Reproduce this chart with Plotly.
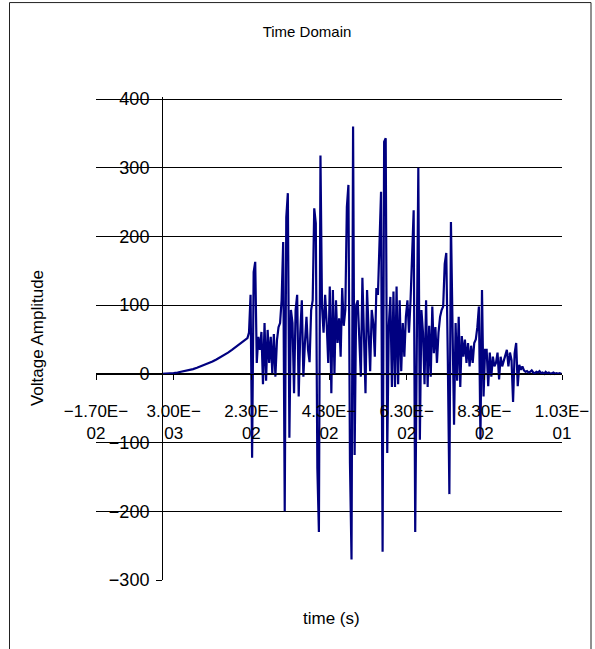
import numpy as np
import plotly.graph_objects as go

# ---- data ----
ramp_start = 0.0
ramp_step = 0.001
ramp_values = [0, 0, 1, 1, 2, 3, 4, 5, 7, 9, 11, 13, 15, 18, 21, 24, 27, 31, 35, 39, 43, 48, 52]

burst_start = 0.0224
burst_step = 0.0004
burst_values = [
    60, 115, -122, 148, 163, 16, 54, 35, 61, -15,
    74, -10, 64, 16, 54, 1, 58, -4, 49, 68,
    74, 107, 192, -200, 228, 263, -93, 93, 74, -28,
    93, 115, -33, 60, 107, -4, 45, 83, 35, 17,
    93, 107, 241, 219, -137, -230, 318, 98, 60, 115,
    74, 16, 127, -28, 122, 0, 107, 45, 81, 25,
    125, 70, 93, 243, 275, -130, -270, 360, -118, 100,
    107, 60, -4, 140, 50, -28, 122, 60, 4, 93,
    74, 25, 125, 115, 209, 265, -259, 338, 343, -115,
    70, 112, -19, 120, -19, 127, -15, 107, 4, 74,
    25, 83, 107, 60, 107, 166, 238, -230, 40, 300,
    -96, 93, 60, -15, 107, -19, 70, -4, 98, 30,
    68, 16, 60, 83, 93, 98, 160, 176, 20, -175,
    221, 60, -74, 74, -10, 83, -19, 55, 25, 50,
    16, 45, 11, 41, 16, 45, 50, 68, 98, -96,
    122, -33, 35, 35, -18, 31, -4, 25, 11, 16,
    31, -8, 25, 11, 20, 25, 35, 11, 31, 20,
    -41, 30, 45, -18, 13, 6, 11, 5, 3, 4,
    2, 3, 5, 2, 1, 3, 2, 4, 1, 2,
    0, 3, 1, 2, 0, 1, 2, 0, 1, 0,
    1, 0,
]

x_range = [-0.017, 0.103]
x_major = 0.02
y_range = [-300, 400]
y_major = 100

title_text = "Time Domain"
x_title = "time (s)"
y_title = "Voltage Amplitude"

# ---- assemble ----
t_ramp = ramp_start + ramp_step * np.arange(len(ramp_values))
t_burst = burst_start + burst_step * np.arange(len(burst_values))
t_all = np.round(np.concatenate([t_ramp, t_burst]), 5)
v_all = np.array(ramp_values + burst_values, dtype=float)

x_ticks = np.round(np.arange(x_range[0], x_range[1] + 1e-9, x_major), 4)


def sci_label(v):
    s = f"{v:.2E}".replace("-", "\u2212")
    head, tail = s.split("E")
    return head + "E" + tail[0] + "<br>" + tail[1:]


x_tick_text = [sci_label(v) for v in x_ticks]

FONT = "Liberation Sans, Arial, sans-serif"

# plot area in pixels (top padded a little so the 400 gridline is drawn)
PAD = 3
y_disp = [y_range[0], y_range[1] + PAD]
plot_top, plot_bottom, plot_left, plot_right = 99, 580, 96, 562
px_per_unit = (plot_bottom - plot_top) / (y_range[1] - y_range[0])
top_margin = plot_top - PAD * px_per_unit
plot_h = plot_bottom - top_margin
plot_w = plot_right - plot_left


def px_to_paper_x(px):
    return (px - plot_left) / plot_w


def px_to_paper_y(py):
    return (plot_bottom - py) / plot_h


fig = go.Figure()
fig.add_trace(go.Scatter(
    x=t_all, y=v_all, mode="lines",
    line=dict(color="#000080", width=2.2),
    showlegend=False, hoverinfo="skip",
))

x_axis_pos = (0 - y_disp[0]) / (y_disp[1] - y_disp[0])
y_axis_pos = (0 - x_range[0]) / (x_range[1] - x_range[0])

fig.update_layout(
    width=595, height=649,
    margin=dict(l=plot_left, r=595 - plot_right, t=top_margin, b=649 - plot_bottom,
                autoexpand=False),
    paper_bgcolor="white", plot_bgcolor="white",
    font=dict(family=FONT, size=15, color="black"),
    title=dict(text=title_text, x=px_to_paper_x(307), xref="paper", xanchor="center",
               y=1 - 32 / 649, yref="container", yanchor="middle",
               font=dict(family=FONT, size=15, color="black")),
    xaxis=dict(
        range=x_range, tickvals=x_ticks, ticktext=x_tick_text,
        showgrid=False, zeroline=False, automargin=False,
        showline=True, linecolor="black", linewidth=1,
        ticks="outside", ticklen=5, tickcolor="black",
        anchor="free", position=x_axis_pos,
        tickfont=dict(family=FONT, size=17, color="black"),
        ticklabelstandoff=17,
    ),
    yaxis=dict(
        range=y_disp, dtick=y_major, tick0=0,
        showgrid=True, gridcolor="black", gridwidth=1,
        zeroline=False, automargin=False,
        showline=True, linecolor="black", linewidth=1,
        ticks="outside", ticklen=6, tickcolor="black",
        anchor="free", position=y_axis_pos,
        tickfont=dict(family=FONT, size=18, color="black"),
        ticklabelstandoff=3,
    ),
    annotations=[
        dict(text=y_title, xref="paper", yref="paper",
             x=px_to_paper_x(37), y=px_to_paper_y(338), textangle=-90,
             showarrow=False, xanchor="center", yanchor="middle",
             font=dict(family=FONT, size=17, color="black")),
        dict(text=x_title, xref="paper", yref="paper",
             x=px_to_paper_x(331), y=px_to_paper_y(619),
             showarrow=False, xanchor="center", yanchor="middle",
             font=dict(family=FONT, size=17, color="black")),
    ],
    shapes=[
        dict(type="rect", xref="paper", yref="paper",
             x0=px_to_paper_x(9.5), x1=px_to_paper_x(591),
             y0=px_to_paper_y(700), y1=px_to_paper_y(2.5),
             line=dict(color="#222", width=1), fillcolor="rgba(0,0,0,0)",
             layer="below"),
    ],
)

fig.write_html(
    "out.html",
    config={"displayModeBar": False},
    post_script="document.body.style.margin='0px';document.body.style.overflow='hidden';",
)
